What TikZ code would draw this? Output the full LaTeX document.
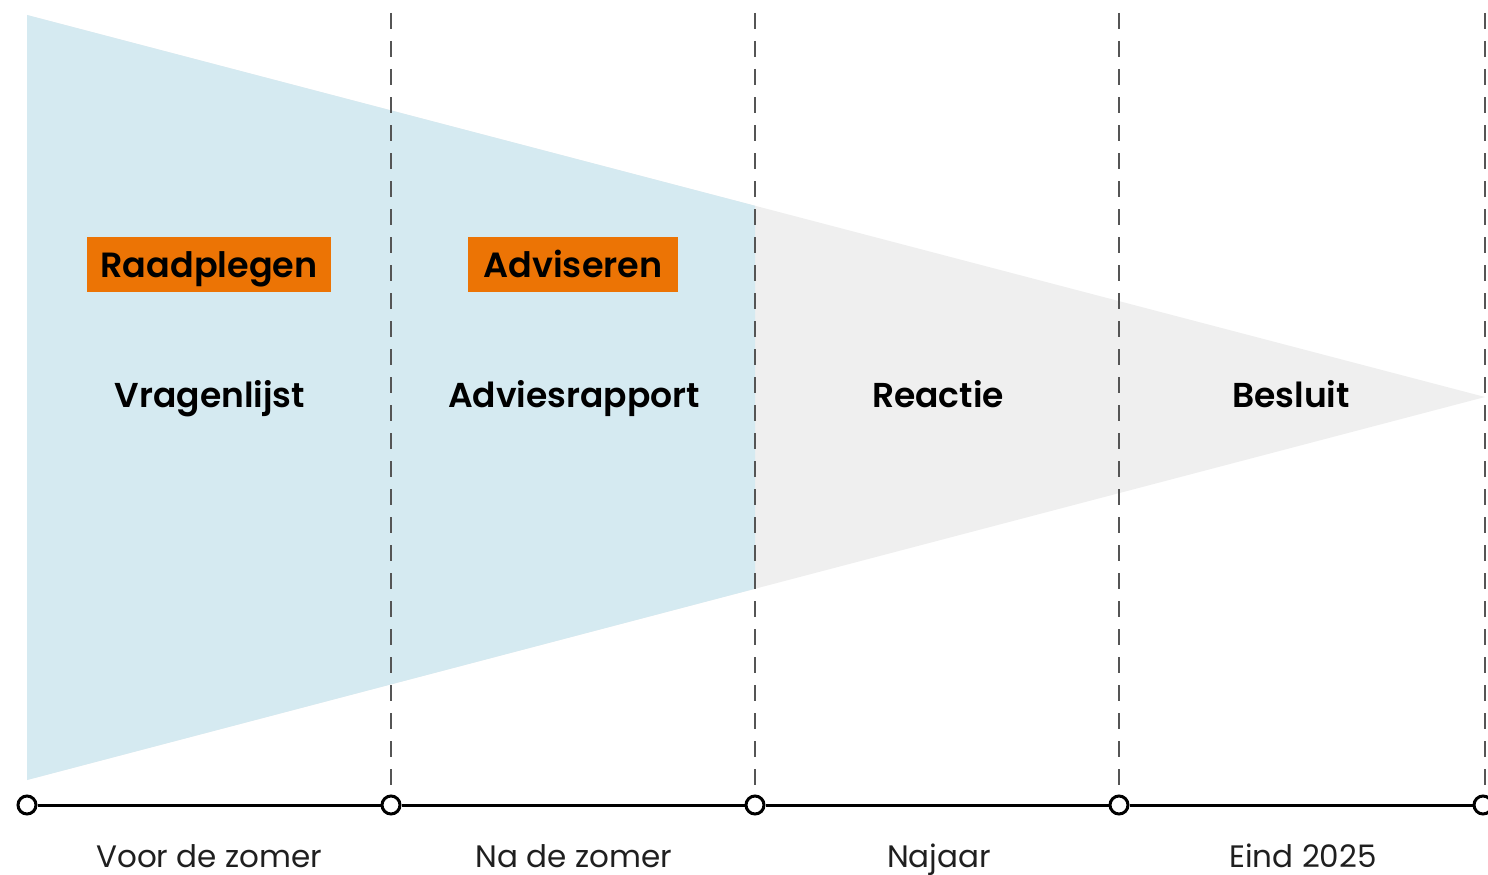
\documentclass[tikz,border=0pt]{standalone}
\usepackage{fontspec}
\setmainfont{Poppins}[BoldFont={Poppins SemiBold}]
\definecolor{lblue}{HTML}{D5EAF1}
\definecolor{lgrey}{HTML}{EFEFEF}
\definecolor{orng}{HTML}{EC7405}
\definecolor{dgrey}{HTML}{555555}
\begin{document}
\begin{tikzpicture}[x=1pt,y=-1pt,
  phase/.style={anchor=base, font=\fontsize{34.5}{38}\selectfont\bfseries, text=black, inner sep=0pt},
  tag/.style={fill=orng, minimum height=55pt, inner sep=0pt},
  tagtext/.style={anchor=base, font=\fontsize{35}{38}\selectfont\bfseries, text=black, inner sep=0pt},
  when/.style={anchor=base, font=\fontsize{31}{34}\selectfont, text=black!88, inner sep=0pt},
  guide/.style={draw=dgrey, line width=1.4pt, dash pattern=on 16pt off 12pt},
  tick/.style={circle, draw=black, fill=white, line width=3pt, minimum size=18pt, inner sep=0pt}]
\useasboundingbox (0,0) rectangle (1488,875);
% funnel
\fill[lgrey] (27,15) -- (1485,397) -- (27,780) -- cycle;
\begin{scope}
  \clip (0,0) rectangle (755,875);
  \fill[lblue] (27,15) -- (1485,397) -- (27,780) -- cycle;
\end{scope}
% guide lines
\foreach \x/\n in {391/g1,755/g2,1119/g3,1485/g4}{
  \coordinate (\n t) at (\x,13);
  \coordinate (\n b) at (\x,796);
  \draw[guide] (\n t) -- (\n b);
}
% timeline
\node[tick] (t0) at (27,805) {};
\node[tick] (t1) at (391,805) {};
\node[tick] (t2) at (755,805) {};
\node[tick] (t3) at (1119,805) {};
\node[tick] (t4) at (1483,805) {};
\draw[line width=3pt] (t0) -- (t1);
\draw[line width=3pt] (t1) -- (t2);
\draw[line width=3pt] (t2) -- (t3);
\draw[line width=3pt] (t3) -- (t4);
% tags
\node[tag, minimum width=244pt] (raad) at (209,264.5) {};
\node[tagtext] (raadt) at (209,277) {Raadplegen};
\node[tag, minimum width=210pt] (advi) at (573,264.5) {};
\node[tagtext] (advit) at (573,277) {Adviseren};
% phases
\node[phase] (p1) at (210,407) {Vragenlijst};
\node[phase] (p2) at (574,407) {Adviesrapport};
\node[phase] (p3) at (938,407) {Reactie};
\node[phase] (p4) at (1291,407) {Besluit};
% when
\node[when] (w1) at (209,867) {Voor de zomer};
\node[when] (w2) at (574,867) {Na de zomer};
\node[when] (w3) at (939,867) {Najaar};
\node[when] (w4) at (1303,867) {Eind 2025};
\end{tikzpicture}
\end{document}
